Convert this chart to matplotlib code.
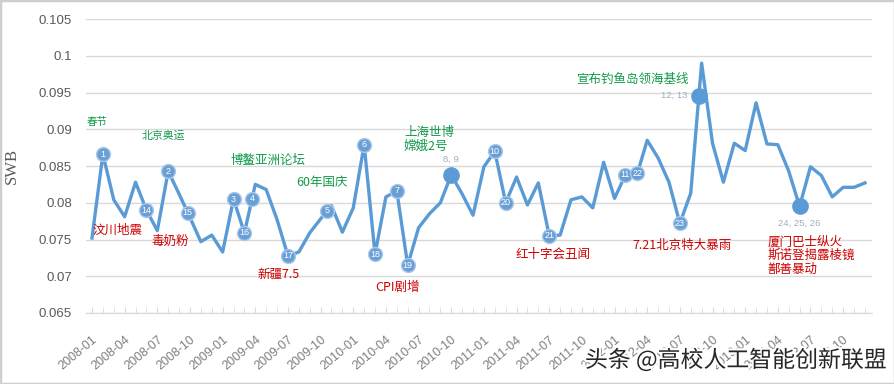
import numpy as np
import matplotlib.pyplot as plt
import matplotlib.patheffects as pe
from matplotlib.patches import Rectangle

# monthly SWB index, 2008-01 .. 2013-12
months = [f"{2008 + i // 12}-{i % 12 + 1:02d}" for i in range(72)]
swb = [0.0752, 0.0866, 0.0804, 0.0781, 0.0828, 0.0790, 0.0762, 0.0843, 0.0812, 0.0780,
       0.0747, 0.0756, 0.0733, 0.0805, 0.0759, 0.0825, 0.0818, 0.0777, 0.0728, 0.0733,
       0.0759, 0.0778, 0.0796, 0.0760, 0.0793, 0.0879, 0.0730, 0.0808, 0.0816, 0.0715,
       0.0766, 0.0785, 0.0800, 0.0838, 0.0812, 0.0783, 0.0849, 0.0870, 0.0800, 0.0835,
       0.0797, 0.0827, 0.0755, 0.0756, 0.0804, 0.0808, 0.0793, 0.0855, 0.0806, 0.0838,
       0.0835, 0.0885, 0.0861, 0.0828, 0.0772, 0.0813, 0.0990, 0.0881, 0.0828, 0.0881,
       0.0871, 0.0936, 0.0880, 0.0879, 0.0843, 0.0795, 0.0849, 0.0837, 0.0808, 0.0821,
       0.0821, 0.0827]

# numbered bubbles sitting on the line (label, month index)
bubbles = [("1", 1), ("14", 5), ("2", 7), ("15", 8.8), ("3", 13), ("16", 14), ("4", 14.7),
           ("17", 18), ("5", 21.6), ("6", 25), ("18", 26), ("7", 28), ("19", 29),
           ("10", 37), ("20", 38), ("21", 42), ("11", 49), ("22", 50.1), ("23", 54)]
# big dots with grey labels (label, month index, offset in points)
dots = [("8, 9", 33, (0, 11)), ("12, 13", 55.75, (-18, 0)), ("24, 25, 26", 65, (0, -12))]

# (text, month index, y value, font size)
green_notes = [("春节", -0.46, 0.0910, 7.5), ("北京奥运", 4.6, 0.0891, 7.8),
               ("博鳌亚洲论坛", 12.76, 0.0857, 9), ("60年国庆", 18.73, 0.0827, 9),
               ("上海世博\n嫦娥2号", 28.65, 0.0886, 9), ("宣布钓鱼岛领海基线", 44.44, 0.0968, 9)]
red_notes = [("汶川地震", 0.09, 0.0763), ("毒奶粉", 5.5, 0.0747), ("新疆7.5", 15.24, 0.0703),
             ("CPI剧增", 26.0, 0.0685), ("红十字会丑闻", 38.93, 0.0730),
             ("7.21北京特大暴雨", 49.68, 0.0742),
             ("厦门巴士纵火\n斯诺登揭露棱镜\n鄯善暴动", 62.08, 0.0728)]

blue = '#5b9bd5'
cjk = ['Noto Sans CJK SC', 'DejaVu Sans']

fig = plt.figure(figsize=(8.95, 3.84), dpi=100)
ax = fig.add_axes([0.0961, 0.1849, 0.8782, 0.7656])

x = np.arange(len(swb))
ax.plot(x, swb, color=blue, lw=2.4, zorder=3, solid_joinstyle='round')

for lab, pos in bubbles:
    yv = np.interp(pos, x, swb)
    ax.plot(pos, yv, 'o', ms=10, mfc='#6a9fd6', mec='#a9c8ea', mew=1, zorder=4)
    ax.text(pos, yv, lab, color='white', fontsize=6.5, ha='center', va='center',
            family='Liberation Sans', zorder=5)

for lab, pos, off in dots:
    yv = np.interp(pos, x, swb)
    ax.plot(pos, yv, 'o', ms=11, color='#5b9bd5', zorder=4)
    ax.annotate(lab, (pos, yv), xytext=off, textcoords='offset points',
                ha='center', va='center', fontsize=6.8, color='#9aafc6',
                family='Liberation Sans')

for txt, tx, ty, fs in green_notes:
    ax.text(tx, ty, txt, color='#109a4a', fontsize=fs, ha='left', va='center',
            family=cjk, linespacing=1.1)
for txt, tx, ty in red_notes:
    ax.text(tx, ty, txt, color='#cc0000', fontsize=9, ha='left', va='center',
            family=cjk, linespacing=1.05)

ax.set_xlim(-0.55, 71.65)
ax.set_ylim(0.065, 0.105)
ax.set_yticks(np.arange(0.065, 0.1051, 0.005))
ax.set_yticklabels(['0.065', '0.07', '0.075', '0.08', '0.085', '0.09', '0.095', '0.1', '0.105'],
                   family='Liberation Sans', fontsize=9.5, color='#595959')
ax.set_xticks(x[::3])
ax.set_xticklabels(months[::3], rotation=40, ha='right', rotation_mode='anchor',
                   family='Liberation Sans', fontsize=9, color='#7f7f7f')
ax.set_xticks(x, minor=True)
ax.tick_params(axis='y', length=0, pad=10)
ax.tick_params(axis='x', which='both', direction='in', length=4, color='#d9d9d9', pad=15)
ax.yaxis.grid(True, color='#d9d9d9', lw=1)
ax.set_axisbelow(True)
for s in ['top', 'right', 'left']:
    ax.spines[s].set_visible(False)
ax.spines['bottom'].set_color('#d9d9d9')
ax.set_ylabel('SWB', family='Liberation Serif', fontsize=12, color='#595959', labelpad=14)

fig.text(0.6536, 0.0625, '头条 @高校人工智能创新联盟', fontsize=16.5, color='#262626',
         family=cjk, ha='left', va='center',
         path_effects=[pe.withStroke(linewidth=3, foreground='white')])
fig.patches.append(Rectangle((0, 0), 1, 1, transform=fig.transFigure, fill=False,
                             edgecolor='#cfcfcf', lw=2.5))

fig.savefig('out.png', dpi=100)
